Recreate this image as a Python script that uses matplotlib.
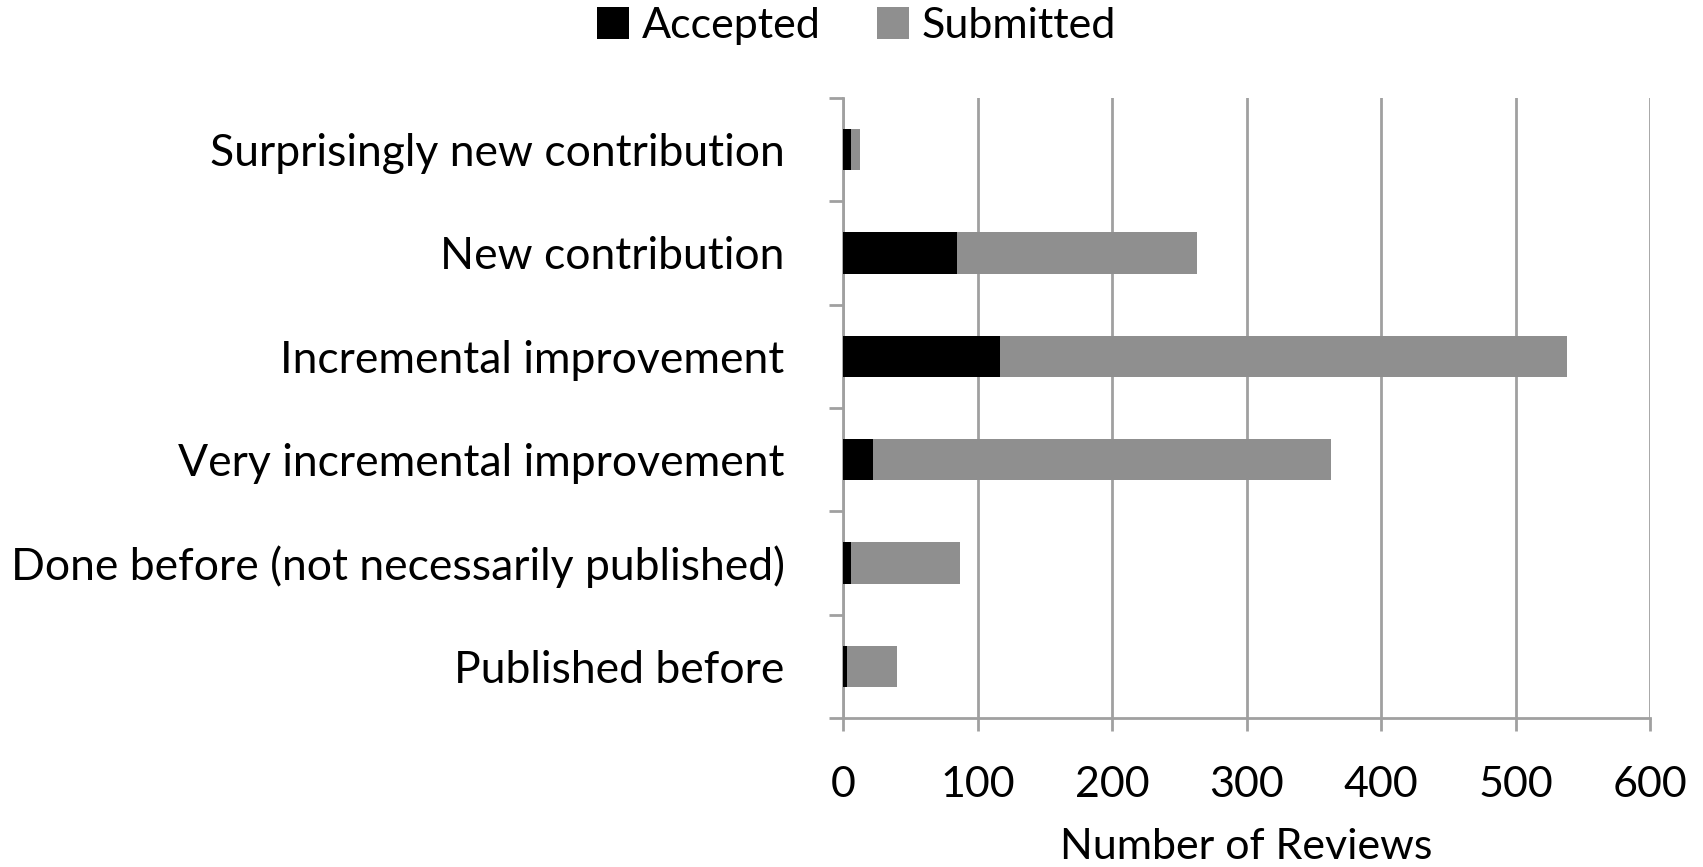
import matplotlib.pyplot as plt
import numpy as np

# data, top to bottom as in the chart
categories = ['Surprisingly new contribution', 'New contribution',
              'Incremental improvement', 'Very incremental improvement',
              'Done before (not necessarily published)', 'Published before']
accepted = [6, 85, 117, 22, 6, 3]
submitted = [13, 263, 538, 363, 87, 40]
xticks = [0, 100, 200, 300, 400, 500, 600]

plt.rcParams['font.family'] = ['Lato', 'DejaVu Sans']
fs = 31

fig = plt.figure(figsize=(17.03, 8.67), dpi=100)
ax = fig.add_axes([0.495, 0.172, 0.474, 0.715])

y = np.arange(len(categories))[::-1]
grey = '#8f8f8f'
line = '#a0a0a0'

ax.barh(y, submitted, height=0.4, color=grey, label='Submitted', zorder=2)
ax.barh(y, accepted, height=0.4, color='black', label='Accepted', zorder=3)

ax.set_xlim(0, 600)
ax.set_ylim(-0.5, len(categories) - 0.5)
ax.set_xticks(xticks)
ax.set_xticklabels([str(t) for t in xticks], fontsize=fs)
ax.set_yticks(y)
ax.set_yticklabels(categories, fontsize=32)
ax.set_yticks(np.arange(-0.5, len(categories)), minor=True)

# grid lines only vertical
ax.xaxis.grid(True, color=line, linewidth=2, zorder=0)
ax.set_axisbelow(True)

for s in ['top', 'right']:
    ax.spines[s].set_visible(False)
for s in ['left', 'bottom']:
    ax.spines[s].set_color(line)
    ax.spines[s].set_linewidth(2)

ax.tick_params(axis='y', which='major', length=0, pad=42)
ax.tick_params(axis='y', which='minor', length=10, width=2, color=line)
ax.tick_params(axis='x', length=9, width=2, color=line, pad=26)

ax.set_xlabel('Number of Reviews', fontsize=fs, labelpad=17)

h, l = ax.get_legend_handles_labels()
fig.legend(h[::-1], l[::-1], loc='center', bbox_to_anchor=(0.503, 0.97),
           ncol=2, frameon=False, fontsize=fs, handlelength=0.75,
           handleheight=0.75, handletextpad=0.3, columnspacing=1.3)

fig.savefig('out.png', dpi=100)
